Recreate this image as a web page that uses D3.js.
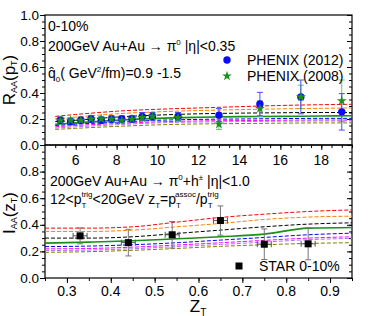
<!doctype html>
<html lang="en">
<head>
<meta charset="UTF-8">
<style>
  body { margin: 0; background: #fff; }
  #chart { position: relative; width: 374px; height: 316px; }
  #chart svg { position: absolute; left: 0; top: 0; display: block; }
  svg text { font-family: "Liberation Sans", Arial, sans-serif; }
  .ytick { position: absolute; left: 0; width: 39px; text-align: right; height: 16px; line-height: 16px;
           font-family: "Liberation Sans", Arial, sans-serif; font-size: 13.5px; color: #000; }
</style>
</head>
<body>
<div id="chart"><svg width="374" height="316"></svg></div>
<script src="https://cdn.jsdelivr.net/npm/d3@7/dist/d3.min.js"></script>
<script>
// ---- data: top panel, R_AA(pT) ----
var ptBins = [5.25, 5.75, 6.25, 6.75, 7.25, 7.75, 8.25, 8.75, 9.25, 9.75, 11, 13, 15, 17, 19];
var phenix12 = [0.19, 0.18, 0.19, 0.20, 0.19, 0.20, 0.20, 0.20, 0.22, 0.22, 0.22, 0.23, 0.315, 0.37, 0.255];
var phenix12Err = [0.025, 0.025, 0.025, 0.025, 0.025, 0.025, 0.025, 0.025, 0.03, 0.03, 0.03, 0.05, 0.09, 0.13, 0.14];
var phenix08 = [0.19, 0.19, 0.19, 0.20, 0.20, 0.20, 0.19, 0.20, 0.21, 0.22, 0.21, 0.16, 0.28, 0.37, 0.34];
var phenix08Err = [0.02, 0.02, 0.02, 0.02, 0.02, 0.02, 0.02, 0.02, 0.025, 0.025, 0.03, 0.04, 0.06, 0.09, 0.16];

var ptGrid = [5, 6, 7, 8, 10, 12, 14, 16, 18, 19.5];
var raaRed     = [0.220, 0.235, 0.248, 0.260, 0.275, 0.285, 0.295, 0.304, 0.310, 0.313];
var raaOrange  = [0.200, 0.215, 0.228, 0.240, 0.255, 0.265, 0.272, 0.278, 0.282, 0.285];
var raaBlack   = [0.180, 0.190, 0.203, 0.215, 0.230, 0.240, 0.245, 0.248, 0.250, 0.250];
var raaGreen   = [0.160, 0.170, 0.180, 0.190, 0.205, 0.213, 0.218, 0.220, 0.223, 0.225];
var raaBlue    = [0.150, 0.160, 0.168, 0.175, 0.190, 0.197, 0.200, 0.203, 0.205, 0.205];
var raaMagenta = [0.140, 0.150, 0.158, 0.165, 0.178, 0.185, 0.188, 0.190, 0.192, 0.192];
var raaViolet  = [0.130, 0.140, 0.148, 0.156, 0.170, 0.177, 0.180, 0.183, 0.185, 0.185];
var raaOlive   = [0.120, 0.128, 0.136, 0.143, 0.155, 0.162, 0.165, 0.168, 0.170, 0.170];

// ---- data: bottom panel, I_AA(zT) ----
var zt = [0.33, 0.44, 0.54, 0.65, 0.75, 0.85];
var starIaa = [0.317, 0.266, 0.325, 0.432, 0.254, 0.257];
var starErr = [0.06, 0.10, 0.10, 0.11, 0.115, 0.12];

var ztGrid = [0.25, 0.35, 0.45, 0.55, 0.65, 0.75, 0.85, 0.95];
var iaaRed     = [0.375, 0.375, 0.385, 0.420, 0.455, 0.480, 0.500, 0.512];
var iaaOrange  = [0.350, 0.350, 0.360, 0.385, 0.410, 0.440, 0.458, 0.465];
var iaaBlack   = [0.300, 0.300, 0.310, 0.335, 0.360, 0.385, 0.405, 0.415];
var iaaGreen   = [0.262, 0.270, 0.280, 0.295, 0.310, 0.330, 0.375, 0.380];
var iaaBlue    = [0.236, 0.240, 0.250, 0.265, 0.285, 0.305, 0.325, 0.337];
var iaaMagenta = [0.219, 0.222, 0.232, 0.248, 0.265, 0.283, 0.300, 0.310];
var iaaViolet  = [0.206, 0.210, 0.220, 0.236, 0.252, 0.270, 0.288, 0.298];
var iaaOlive   = [0.193, 0.198, 0.208, 0.222, 0.238, 0.250, 0.260, 0.265];

// tick labels
var raaTicks = [0, 0.2, 0.4, 0.6, 0.8, 1.0];
var iaaTicks = [0, 0.2, 0.4, 0.6, 0.8];
var ptTicks = [6, 8, 10, 12, 14, 16, 18];
var ztTicks = [0.3, 0.4, 0.5, 0.6, 0.7, 0.8, 0.9];

var curveColors = ['#ff0000', '#ff8000', '#000000', '#1a8f1a', '#0000ff', '#ff00ff', '#b070ff', '#808000'];

var svg = d3.select('svg');
var plotL = 45, plotR = 352;

var x1 = d3.scaleLinear().domain([4.5, 19.5]).range([plotL, plotR]);
var y1 = d3.scaleLinear().domain([0, 1]).range([145, 15]);
var x2 = d3.scaleLinear().domain([0.25, 0.95]).range([plotL, plotR]);
var y2 = d3.scaleLinear().domain([0, 1]).range([278, 145]);

function drawFrame(x, y, xMajor, xMinor) {
    var g = svg.append('g');
    var y0 = y.range()[0];
    // left axis, outward ticks
    g.append('g').attr('transform', 'translate(' + plotL + ',0)')
        .call(d3.axisLeft(y).tickValues(d3.range(0, 1.001, 0.05)).tickSize(3).tickFormat(''));
    g.append('g').attr('transform', 'translate(' + plotL + ',0)')
        .call(d3.axisLeft(y).tickValues(d3.range(0, 1.001, 0.2)).tickSize(5).tickFormat(''));
    // right axis, inward ticks
    g.append('g').attr('transform', 'translate(' + plotR + ',0)')
        .call(d3.axisLeft(y).tickValues(d3.range(0, 1.001, 0.05)).tickSize(3).tickFormat(''));
    g.append('g').attr('transform', 'translate(' + plotR + ',0)')
        .call(d3.axisLeft(y).tickValues(d3.range(0, 1.001, 0.2)).tickSize(5).tickFormat(''));
    // bottom axis, outward
    g.append('g').attr('transform', 'translate(0,' + y0 + ')')
        .call(d3.axisBottom(x).tickValues(xMinor).tickSize(3).tickFormat(''));
    g.append('g').attr('transform', 'translate(0,' + y0 + ')')
        .call(d3.axisBottom(x).tickValues(xMajor).tickSize(5).tickFormat(''));
    g.selectAll('.domain').remove();
    g.selectAll('.tick text').remove();
    g.selectAll('line').attr('stroke', '#000');
    g.append('rect').attr('x', plotL).attr('y', y.range()[1])
        .attr('width', plotR - plotL).attr('height', y0 - y.range()[1])
        .attr('fill', 'none').attr('stroke', '#000').attr('stroke-width', 1.2);
}
drawFrame(x1, y1, ptTicks, d3.range(5, 19.6, 0.5));
drawFrame(x2, y2, ztTicks, d3.range(0.25, 0.951, 0.05));

// theory curves
function drawCurves(x, y, xs, sets) {
    var line = d3.line().x(function(d, i) { return x(xs[i]); }).y(function(d) { return y(d); })
        .curve(d3.curveMonotoneX);
    sets.forEach(function(s, k) {
        svg.append('path').attr('d', line(s))
            .attr('fill', 'none')
            .attr('stroke', curveColors[k])
            .attr('stroke-width', k === 3 ? 1.6 : 1)
            .attr('stroke-dasharray', k === 3 ? null : '4,2');
    });
}
drawCurves(x1, y1, ptGrid, [raaRed, raaOrange, raaBlack, raaGreen, raaBlue, raaMagenta, raaViolet, raaOlive]);
drawCurves(x2, y2, ztGrid, [iaaRed, iaaOrange, iaaBlack, iaaGreen, iaaBlue, iaaMagenta, iaaViolet, iaaOlive]);

// error bars helper
function errBars(x, y, xs, vals, errs, color, cap) {
    var g = svg.append('g').attr('stroke', color).attr('stroke-width', 1);
    vals.forEach(function(v, i) {
        var cx = x(xs[i]);
        g.append('line').attr('x1', cx).attr('x2', cx).attr('y1', y(v - errs[i])).attr('y2', y(v + errs[i]));
        g.append('line').attr('x1', cx - cap).attr('x2', cx + cap).attr('y1', y(v - errs[i])).attr('y2', y(v - errs[i]));
        g.append('line').attr('x1', cx - cap).attr('x2', cx + cap).attr('y1', y(v + errs[i])).attr('y2', y(v + errs[i]));
    });
}

// PHENIX 2008 green stars
errBars(x1, y1, ptBins, phenix08, phenix08Err, '#6fbf6f', 3);
// PHENIX 2012 blue circles
errBars(x1, y1, ptBins, phenix12, phenix12Err, '#4a4aff', 3);
svg.append('g').selectAll('circle').data(phenix12).enter().append('circle')
    .attr('cx', function(d, i) { return x1(ptBins[i]); })
    .attr('cy', function(d) { return y1(d); })
    .attr('r', 3.7).attr('fill', '#0a0aff');
var starSym = d3.symbol().type(d3.symbolStar).size(30);
svg.append('g').selectAll('path').data(phenix08).enter().append('path')
    .attr('d', starSym)
    .attr('transform', function(d, i) { return 'translate(' + x1(ptBins[i]) + ',' + y1(d) + ')'; })
    .attr('fill', '#1a8f1a');

// STAR squares
errBars(x2, y2, zt, starIaa, starErr, '#777', 3);
var sysG = svg.append('g').attr('stroke', '#555').attr('fill', 'none');
starIaa.forEach(function(v, i) {
    var cx = x2(zt[i]), cy = y2(v);
    sysG.append('path').attr('d', 'M' + (cx - 7) + ',' + (cy - 3) + 'v6 M' + (cx + 7) + ',' + (cy - 3) + 'v6 M' + (cx - 7) + ',' + cy + 'h14');
});
svg.append('g').selectAll('rect').data(starIaa).enter().append('rect')
    .attr('x', function(d, i) { return x2(zt[i]) - 3.5; })
    .attr('y', function(d) { return y2(d) - 3.5; })
    .attr('width', 7).attr('height', 7).attr('fill', '#000');

// legends
svg.append('circle').attr('cx', 227).attr('cy', 60).attr('r', 3.7).attr('fill', '#0a0aff');
svg.append('text').attr('x', 247).attr('y', 65).style('font-size', '14px').text('PHENIX (2012)');
svg.append('path').attr('d', starSym).attr('transform', 'translate(227,76)').attr('fill', '#1a8f1a');
svg.append('text').attr('x', 247).attr('y', 81).style('font-size', '14px').text('PHENIX (2008)');
svg.append('rect').attr('x', 235.5).attr('y', 262.5).attr('width', 7).attr('height', 7).attr('fill', '#000');
svg.append('text').attr('x', 259).attr('y', 271).style('font-size', '14px').text('STAR 0-10%');

// annotations
function txt(xp, yp, size) {
    return svg.append('text').attr('x', xp).attr('y', yp).style('font-size', size + 'px');
}
txt(48, 31, 14).text('0-10%');
var t1 = txt(48, 51, 14);
t1.append('tspan').text('200GeV Au+Au \u2192 \u03c0');
t1.append('tspan').attr('dy', -6).style('font-size', '8px').text('0');
t1.append('tspan').attr('dy', 6).text(' |\u03b7|<0.35');
var t2 = txt(48, 78, 14);
t2.append('tspan').text('q\u0302');
t2.append('tspan').attr('dy', 4).style('font-size', '8px').text('0');
t2.append('tspan').attr('dy', -4).text('( GeV');
t2.append('tspan').attr('dy', -6).style('font-size', '8px').text('2');
t2.append('tspan').attr('dy', 6).text('/fm)=0.9 -1.5');

var t3 = txt(50, 186, 14);
t3.append('tspan').text('200GeV Au+Au \u2192 \u03c0');
t3.append('tspan').attr('dy', -6).style('font-size', '8px').text('0');
t3.append('tspan').attr('dy', 6).text('+h');
t3.append('tspan').attr('dy', -6).style('font-size', '8px').text('\u00b1');
t3.append('tspan').attr('dy', 6).text(' |\u03b7|<1.0');
var t4 = txt(50, 204, 14);
t4.append('tspan').text('12<p');
t4.append('tspan').attr('dy', 4).style('font-size', '8px').text('T');
t4.append('tspan').attr('dx', -5).attr('dy', -11).style('font-size', '8px').text('trig');
t4.append('tspan').attr('dy', 7).text('<20GeV z');
t4.append('tspan').attr('dy', 4).style('font-size', '8px').text('T');
t4.append('tspan').attr('dy', -4).text('=p');
t4.append('tspan').attr('dy', 4).style('font-size', '8px').text('T');
t4.append('tspan').attr('dx', -5).attr('dy', -11).style('font-size', '8px').text('assoc');
t4.append('tspan').attr('dy', 7).text('/p');
t4.append('tspan').attr('dy', 4).style('font-size', '8px').text('T');
t4.append('tspan').attr('dx', -5).attr('dy', -11).style('font-size', '8px').text('trig');

// axis titles
function ytitle(cy, main, sub, inner, innerSub) {
    var t = svg.append('text').attr('transform', 'translate(15,' + cy + ') rotate(-90)')
        .attr('text-anchor', 'middle').style('font-size', '17px');
    t.append('tspan').text(main);
    t.append('tspan').attr('dy', 2).style('font-size', '9px').text(sub);
    t.append('tspan').attr('dy', -2).text('(' + inner);
    t.append('tspan').attr('dy', 2).style('font-size', '9px').text(innerSub);
    t.append('tspan').attr('dy', -2).text(')');
}
ytitle(80, 'R', 'AA', 'p', 'T');
ytitle(213, 'I', 'AA', 'z', 'T');
var xt = svg.append('text').attr('x', 198).attr('y', 312).attr('text-anchor', 'middle').style('font-size', '17px');
xt.append('tspan').text('Z');
xt.append('tspan').attr('dy', 4).style('font-size', '10px').text('T');

// x tick labels
function xLabels(cls, x, yPos, vals, fmt) {
    svg.selectAll('text.' + cls).data(vals).enter().append('text').attr('class', cls)
        .attr('x', function(d) { return x(d); }).attr('y', yPos)
        .attr('text-anchor', 'middle').attr('fill', '#000')
        .style('font-size', '14px').text(fmt);
}
xLabels('xl1', x1, 165, ptTicks, d3.format('d'));
xLabels('xl2', x2, 296, ztTicks, d3.format('.1f'));

// y tick labels as an HTML layer over the svg
var chart = d3.select('#chart');
function yLabels(y, vals) {
    vals.forEach(function(v) {
        chart.append('div').attr('class', 'ytick')
            .style('top', (y(v) - 7.5) + 'px')
            .text(d3.format('.1f')(v));
    });
}
yLabels(y1, raaTicks);
yLabels(y2, iaaTicks);
</script>
</body>
</html>
